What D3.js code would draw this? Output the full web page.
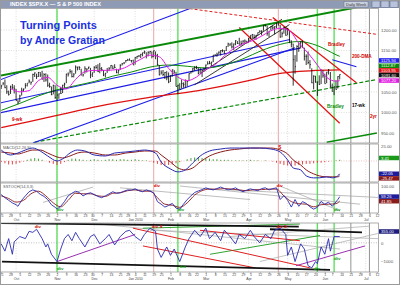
<!DOCTYPE html>
<html>
<head>
<meta charset="utf-8">
<script src="https://d3js.org/d3.v7.min.js"></script>
<style>
  body { margin: 0; background: #ffffff; }
  svg { display: block; font-family: "Liberation Sans", Arial, sans-serif; }
</style>
</head>
<body>
<div id="chart"></div>
<script>
// ---- data ----
var holidays = ["2009-11-26", "2009-12-25", "2010-01-01", "2010-01-18", "2010-02-15", "2010-04-02", "2010-05-31", "2010-07-05"];

// daily S&P 500 bars, Sep 21 2009 .. Jun 11 2010 (trading day index 0..182)
var highs = [1067,1073,1080,1066,1053,1065,1069,1066,
  1057,1030,1043,1060,1058,1071,1071,1080,1075,1094,1097,1094,1098,1098,1101,1095,1095,1092,1072,1063,1067,1066,
  1052,1046,1062,1067,1072,1094,1097,1105,1102,1095,1114,1111,1112,1106,1094,1112,1107,1111,1108,1097,
  1112,1115,1117,1120,1110,1103,1096,1108,1110,1115,1114,1117,1106,1103,1117,1120,1122,1127,1130,1131,1127,1128,
  1134,1137,1139,1142,1145,1150,1146,1148,1149,1148,1150,1148,1142,1115,1102,1103,1098,1100,1097,
  1090,1104,1103,1098,1067,1071,1080,1073,1080,1077,1095,1100,1108,1112,1113,1108,1107,1103,1108,
  1116,1124,1125,1123,1139,1141,1145,1148,1151,1153,1150,1160,1169,1167,1170,1167,1175,1173,1181,1174,1175,1177,1174,
  1181,1187,1190,1189,1188,1194,1199,1199,1211,1213,1210,1197,1209,1211,1209,1217,1220,1212,1196,1208,1207,
  1205,1197,1175,1167,1139,1163,1170,1172,1174,1157,1141,1148,1127,1107,1090,1089,1075,1090,1103,1102,
  1094,1098,1105,1098,1070,1063,1078,1088,1092];
var lows = [1057,1066,1059,1045,1041,1045,1057,1046,
  1029,1020,1025,1041,1050,1058,1063,1071,1067,1074,1086,1081,1086,1086,1080,1074,1075,1062,1060,1042,1044,1033,
  1029,1033,1045,1047,1060,1071,1087,1094,1085,1085,1094,1102,1103,1089,1087,1094,1097,1105,1083,1086,
  1096,1106,1098,1095,1100,1088,1085,1096,1101,1106,1105,1107,1095,1094,1103,1114,1117,1121,1125,1126,1121,1115,
  1116,1130,1134,1132,1136,1142,1131,1136,1142,1131,1134,1129,1114,1090,1092,1088,1081,1078,1071,
  1074,1087,1094,1063,1044,1056,1058,1060,1060,1063,1076,1094,1097,1101,1105,1092,1095,1086,1099,
  1105,1116,1117,1112,1122,1137,1135,1140,1138,1146,1141,1149,1159,1161,1155,1151,1163,1166,1165,1162,1166,1168,1168,
  1169,1178,1180,1178,1176,1187,1193,1187,1198,1208,1186,1183,1199,1201,1189,1204,1211,1181,1182,1191,1186,
  1187,1168,1158,1065,1094,1123,1147,1155,1156,1126,1115,1117,1106,1071,1056,1072,1040,1067,1069,1084,
  1070,1071,1092,1060,1051,1042,1055,1058,1080];
var closes = [1064,1071,1060,1050,1044,1062,1060,1057,
  1029,1025,1040,1054,1057,1065,1071,1076,1073,1092,1096,1087,1097,1091,1081,1092,1079,1066,1063,1043,1066,1036,
  1042,1045,1046,1066,1069,1093,1093,1099,1087,1093,1110,1110,1109,1094,1091,1106,1105,1110,1091,1096,
  1109,1109,1099,1106,1104,1091,1095,1102,1106,1114,1107,1109,1097,1102,1114,1118,1120,1126,1127,1126,1126,1115,
  1133,1136,1137,1141,1145,1147,1137,1146,1148,1136,1150,1138,1116,1091,1096,1092,1097,1084,1074,
  1089,1104,1098,1063,1066,1056,1070,1068,1078,1075,1094,1099,1106,1109,1108,1095,1105,1102,1105,
  1115,1118,1119,1122,1139,1139,1141,1146,1150,1150,1150,1160,1166,1166,1159,1166,1174,1167,1165,1167,1173,1173,1169,
  1178,1187,1189,1182,1187,1194,1197,1197,1211,1211,1192,1197,1208,1205,1208,1217,1212,1183,1191,1206,1187,
  1202,1173,1166,1128,1111,1160,1156,1171,1158,1136,1136,1121,1116,1072,1088,1074,1074,1068,1103,1089,
  1070,1098,1103,1064,1051,1062,1056,1087,1092];

// moving averages
var shortMaDays = [5,10,15,20,25,30,35,40,45,50,55,60,65,70,75,80,85,90,95,100,105,110,115,120,125,130,135,140,145,150,155,160,165,170,175,180,182];
var shortMa = [1058,1050,1053,1077,1085,1066,1057,1080,1099,1102,1102,1103,1106,1117,1129,1139,1135,1107,1086,1077,1086,1104,1116,1137,1155,1166,1174,1185,1198,1204,1198,1168,1144,1115,1085,1076,1077];
var ma50Days = [0,10,20,30,40,50,60,70,80,90,100,110,120,130,140,150,160,170,180,182];
var ma50 = [1005,1022,1040,1055,1065,1075,1088,1098,1110,1115,1112,1108,1115,1130,1150,1165,1172,1162,1140,1136];
var ma200Days = [0,30,52,79,106,133,149,166,182];
var ma200 = [963,993,1015,1036,1053,1077,1094,1101,1103];

// MACD
var macdDays = [0,5,9,13,17,21,25,30,33,37,41,45,50,56,61,67,72,77,83,86,91,95,99,103,107,112,118,123,128,134,139,145,150,154,157,161,164,168,171,175,178,181,182];
var macdLine = [18.7,10.2,13.6,18.7,22.1,17,8.5,0,3.4,13.6,18.7,17,10.2,8.5,13.6,15.3,17,18.7,13.6,-1.7,-13.6,-18.7,-15.3,-3.4,8.5,17,20.4,22.1,22.1,22.1,22.1,20.4,15.3,1.7,-11.9,-15.3,-25.5,-28.9,-28.9,-27.2,-28.9,-25.5,-22];
var signalDays = [0,5,9,13,17,21,25,30,33,37,41,45,50,56,61,67,72,77,83,86,91,95,99,103,107,112,118,123,128,134,139,145,150,154,157,161,164,168,171,175,178,181,182];
var signalLine = [15.3,13.6,11.9,15.3,18.7,18.7,13.6,6.8,5.1,8.5,13.6,15.3,13.6,10.2,10.2,13.6,15.3,17,17,10.2,-1.7,-11.9,-15.3,-11.9,-1.7,8.5,15.3,18.7,20.4,22.1,22.1,22.1,18.7,11.9,1.7,-6.8,-15.3,-22.1,-25.5,-27.2,-27.2,-27.2,-25.5];
// histogram, one value for every second trading day from day 0
var macdHist = [-2,-4,-6,-6,-5,-3,-1,2,4,5,4,2,0,-3,-5,-7,-5,-2,2,4,4,3,2,1,2,3,2,1,2,3,3,2,3,3,2,2,3,2,1,1,
  -1,-3,-5,-7,-8,-7,-6,-4,-2,0,3,5,6,6,5,4,4,3,3,2,2,2,1,1,1,1,1,2,1,1,0,1,0,-1,-3,-5,-7,-8,-9,-8,
  -7,-6,-5,-5,-4,-3,-3,-2,-1,0,1,2];

// stochastics
var stochDays = [0,2,4,6,8,9,11,13,15,17,19,21,23,25,27,29,30,32,34,36,38,40,42,44,46,48,50,52,54,56,58,60,62,64,66,68,70,72,74,76,78,80,82,84,86,88,90,92,94,96,98,100,102,104,106,108,110,112,114,116,118,120,122,124,126,128,130,132,134,136,138,140,142,144,146,148,150,152,154,156,158,160,162,164,166,168,170,172,174,176,178,179,181,182];
var stochFast = [67,55,45,35,28,22,45,62,78,85,80,68,60,48,28,18,11,22,40,62,72,80,75,62,70,74,67,60,55,62,70,78,72,74,80,85,84,89,82,78,85,80,74,40,30,19,25,33,15,11,30,48,62,75,81,86,93,88,85,90,96,90,85,88,93,84,78,84,89,85,82,90,93,85,90,93,48,63,45,19,48,22,40,33,20,11,18,41,30,38,22,30,48,59];
var slowDays = [0,4,8,12,16,20,24,28,32,36,40,44,48,52,56,60,64,68,72,76,80,84,88,92,96,100,104,108,112,116,120,124,128,132,136,140,144,148,152,156,160,164,168,172,176,180,182];
var stochSlow = [62,52,38,45,70,80,62,35,20,45,72,70,70,62,60,72,74,82,85,80,80,55,30,26,18,35,65,82,88,88,90,88,85,82,86,86,88,88,62,40,32,30,20,28,30,32,42];

// bottom oscillator
var oscDays = [0,2,4,6,7,10,13,15,17,19,22,24,25,27,30,32,34,36,38,40,42,45,48,50,53,56,58,61,64,67,69,72,75,77,80,83,84,86,89,91,93,96,99,101,104,107,110,112,115,118,120,123,126,128,131,134,136,139,142,145,147,150,153,154,156,158,161,163,165,167,169,170,172,174,176,177,179,182];
var oscVals = [-56,-444,222,-611,56,333,222,611,556,722,222,-222,-56,-611,-1000,-333,222,444,111,556,222,-222,333,444,-56,222,444,-111,333,611,667,333,111,444,778,611,-333,-778,-222,-667,-333,-1000,-222,222,667,333,778,222,556,111,667,333,-56,444,222,667,333,0,444,222,667,778,444,-667,-222,-1000,-56,-333,-1222,-1333,-1000,-1111,-222,-611,222,-444,333,333];

// trend lines as [day1, value1, day2, value2]
var greenTrend = [[-0.6, 1089, 191.3, 1255]];
var blueTrend = [[-0.6, 1079, 101.5, 1252], [-0.6, 1023, 155.3, 1177], [-0.6, 999, 160.6, 1156], [17.1, 926, 158, 1157], [178, 1128, 191, 1111]];
var redTrend = [[146, 1230, 191, 1072], [128, 1206, 182, 974]];
var redDashed = [[96, 1255, 202.6, 1189]];
var blackTrend = [[104, 1067, 155, 1213], [107, 1094, 151, 1226]];
var greenDashed = [[18, 928, 201, 1079]];
var greenLow = [[175, 928, 202, 950]];

var stochGray = [[22.5, 37, 49.4, 96], [63.9, 93, 133.8, 48], [96.1, 100, 192.9, 30], [123, 85, 202.6, 56], [149.9, 100, 182.2, 4]];

var oscBlack = [[0, 1050, 160, 860], [144.5, 722, 194, 556], [0.4, -1000, 176.8, -1444]];
var oscPurple = [[30, -1000, 72, 444], [158.5, -1222, 195.6, -167]];
var oscRed = [[70.9, 778, 166, -1333], [76.2, -167, 136.5, -1333], [106.9, 667, 160.6, 111]];
var oscGreen = [[76.2, 778, 160.6, 1000], [112.3, -611, 171.4, 389]];
var oscGray = [[53.1, 1000, 182.2, -333], [80, 667, 202.6, 222], [123, 333, 198.3, 889], [139, -1000, 202.6, 500]];

// cycle markers (trading day index)
var greenMarks = [30, 95, 170, 179];
var pinkMarks = [82, 149];
var grayMarks = [188, 198];

var priceGrid = [950, 1000, 1050, 1100, 1150, 1200];
var priceLabels = [950, 1000, 1050, 1150, 1200];
var priceBoxValues = [1126, 1113, 1103.9, 1091.6, 1077.2];
var priceBoxText = ["1125.94", "1112.87", "1103.95", "1091.60", "1077.20"];

var mainNotes = [[175.7, 1160, "Bradley"], [188.6, 1131, "200-DMA"], [175.2, 1011, "Bradley"], [188.6, 1013, "17-wk"], [198.3, 987, "2yr"], [5.8, 979, "9-wk"]];
var stochNotes = [[82, 96, "div"], [148, 96, "div"], [30, 3, "div"], [95, 3, "div"], [179, 3, "div"]];
var oscNotes = [[18, 780, "div"], [81, 780, "div S"], [148, 780, "div S"], [30, -1450, "div"], [96, -1350, "div"], [168, -1450, "div"], [179, -900, "div"]];

// ---- layout ----
var svgWidth = 400;
var svgHeight = 285;
var plotRight = 378;

var panels = {
  main: { top: 8.5, bottom: 143 },
  macd: { top: 144, bottom: 182 },
  stoch: { top: 183, bottom: 213 },
  osc: { top: 223, bottom: 272 }
};

var svg = d3.select("#chart")
  .append("svg")
  .attr("width", svgWidth)
  .attr("height", svgHeight);

svg.append("rect").attr("width", svgWidth).attr("height", svgHeight).attr("fill", "#ffffff");

// trading calendar
var holidaySet = new Set(holidays);
var dayKey = d3.timeFormat("%Y-%m-%d");
var tradingDays = d3.timeDay.range(new Date(2009, 8, 21), new Date(2010, 6, 17))
  .filter(function(d) { return d.getDay() > 0 && d.getDay() < 6 && !holidaySet.has(dayKey(d)); });

var x = d3.scaleLinear().domain([-0.65, 202.6]).range([0, plotRight]);

var yPrice = d3.scaleLinear().domain([926, 1252]).range([panels.main.bottom, panels.main.top]);
var yMacd = d3.scaleLinear().domain([-36, 29]).range([panels.macd.bottom, panels.macd.top]);
var yStoch = d3.scaleLinear().domain([0, 100]).range([212, 186]);
var yOsc = d3.scaleLinear().domain([-1555, 1055]).range([panels.osc.bottom, panels.osc.top]);

var weekStarts = [], monthStarts = [];
tradingDays.forEach(function(d, i) {
  if (i > 202) return;
  if (i === 0 || d.getDay() <= tradingDays[i - 1].getDay()) weekStarts.push(i);
  if (i > 0 && d.getMonth() !== tradingDays[i - 1].getMonth()) monthStarts.push(i);
});
var monthNames = ["Jan", "Feb", "Mar", "Apr", "May", "Jun", "Jul", "Aug", "Sep", "Oct", "Nov", "Dec"];

var defs = svg.append("defs");

function makePanel(name) {
  var p = panels[name];
  defs.append("clipPath").attr("id", "clip-" + name)
    .append("rect").attr("x", 1).attr("y", p.top).attr("width", plotRight - 1).attr("height", p.bottom - p.top);
  var g = svg.append("g").attr("clip-path", "url(#clip-" + name + ")");

  // month grid
  g.selectAll(".mgrid").data(monthStarts).enter().append("line")
    .attr("x1", d => x(d)).attr("x2", d => x(d))
    .attr("y1", p.top).attr("y2", p.bottom)
    .attr("stroke", "#c8c8c8").attr("stroke-width", 0.6).attr("stroke-dasharray", "1,1.5");

  // cycle markers
  g.selectAll(".gm").data(greenMarks).enter().append("line")
    .attr("x1", d => x(d)).attr("x2", d => x(d)).attr("y1", p.top).attr("y2", p.bottom)
    .attr("stroke", "#5ee05e").attr("stroke-width", 1.4);
  g.selectAll(".pm").data(pinkMarks).enter().append("line")
    .attr("x1", d => x(d)).attr("x2", d => x(d)).attr("y1", p.top).attr("y2", p.bottom)
    .attr("stroke", "#e8a6a6").attr("stroke-width", 1);
  g.selectAll(".km").data(grayMarks).enter().append("line")
    .attr("x1", d => x(d)).attr("x2", d => x(d)).attr("y1", p.top).attr("y2", p.bottom)
    .attr("stroke", "#777777").attr("stroke-width", 0.8);
  return g;
}

function drawSegments(g, segs, yScale, color, width, dash) {
  g.selectAll(null).data(segs).enter().append("line")
    .attr("x1", d => x(d[0])).attr("y1", d => yScale(d[1]))
    .attr("x2", d => x(d[2])).attr("y2", d => yScale(d[3]))
    .attr("stroke", color).attr("stroke-width", width)
    .attr("stroke-dasharray", dash || null);
}

function drawSeries(g, days, vals, yScale, color, width, curve) {
  var line = d3.line().x(d => x(d[0])).y(d => yScale(d[1])).curve(curve || d3.curveLinear);
  g.append("path").datum(d3.zip(days, vals))
    .attr("d", line).attr("fill", "none")
    .attr("stroke", color).attr("stroke-width", width);
}

function drawNotes(g, notes, yScale, colors, size) {
  g.selectAll(null).data(notes).enter().append("text")
    .attr("x", d => x(d[0])).attr("y", d => yScale(d[1]))
    .attr("font-size", size).attr("font-weight", "bold")
    .attr("fill", (d, i) => colors[i])
    .text(d => d[2]);
}

function rightAxis(ticks, yScale, fmt) {
  var ax = svg.append("g").attr("transform", "translate(" + (plotRight + 3) + ",0)")
    .call(d3.axisRight(yScale).tickValues(ticks).tickFormat(fmt).tickSize(0).tickPadding(0));
  ax.select(".domain").remove();
  ax.selectAll("text").attr("font-size", 4.3).attr("fill", "#555").attr("font-family", "Liberation Sans, Arial");
}

function valueBoxes(values, texts, colors, yScale) {
  var ys = values.map(v => yScale(v));
  for (var i = 1; i < ys.length; i++) if (ys[i] - ys[i - 1] < 4.6) ys[i] = ys[i - 1] + 4.6;
  values.forEach(function(v, i) {
    svg.append("rect").attr("x", plotRight + 1).attr("y", ys[i] - 2.3).attr("width", 20).attr("height", 4.5)
      .attr("fill", colors[i]);
    svg.append("text").attr("x", plotRight + 3).attr("y", ys[i] + 1.5).attr("font-size", 4.2)
      .attr("fill", "#ffffff").text(texts[i]);
  });
}

// ---- title bar ----
svg.append("rect").attr("x", 0).attr("y", 0).attr("width", svgWidth).attr("height", 8).attr("fill", "#8f9bb5");
svg.append("text").attr("x", 10).attr("y", 6.3).attr("font-size", 5.6).attr("font-weight", "bold")
  .attr("fill", "#ffffff").text("INDEX $SPX.X \u2014 S & P 500 INDEX");
svg.append("rect").attr("x", 344).attr("y", 1.5).attr("width", 24).attr("height", 5.5).attr("fill", "#c9d0de").attr("stroke", "#6a7590").attr("stroke-width", 0.5);
svg.append("text").attr("x", 346).attr("y", 5.9).attr("font-size", 4).attr("fill", "#333").text("Daily  Week");
[372, 381, 390].forEach(function(bx) {
  svg.append("rect").attr("x", bx).attr("y", 1).attr("width", 8).attr("height", 6.5)
    .attr("fill", "#b9c4dc").attr("stroke", "#5a6584").attr("stroke-width", 0.5);
});

// ---- main price panel ----
var gMain = makePanel("main");
gMain.selectAll(".hgrid").data(priceGrid).enter().append("line")
  .attr("x1", 1).attr("x2", plotRight).attr("y1", d => yPrice(d)).attr("y2", d => yPrice(d))
  .attr("stroke", "#c8c8c8").attr("stroke-width", 0.6).attr("stroke-dasharray", "1,1.5");

drawSegments(gMain, greenDashed, yPrice, "#0a8a0a", 1.2, "4,2");
drawSegments(gMain, greenLow, yPrice, "#0a8a0a", 1.5);
drawSegments(gMain, blueTrend, yPrice, "#1c1ce6", 1.1);
drawSegments(gMain, blackTrend, yPrice, "#222222", 0.9);
drawSegments(gMain, redDashed, yPrice, "#e02020", 1, "3,2");
drawSegments(gMain, redTrend, yPrice, "#e01010", 1.2);
drawSegments(gMain, greenTrend, yPrice, "#0a8a0a", 2);

drawSeries(gMain, ma200Days, ma200, yPrice, "#e01010", 1.3, d3.curveMonotoneX);
drawSeries(gMain, ma50Days, ma50, yPrice, "#0a8a0a", 1, d3.curveMonotoneX);

// price bars
var bars = d3.range(closes.length);
gMain.selectAll(".bar").data(bars).enter().append("line")
  .attr("x1", d => x(d)).attr("x2", d => x(d))
  .attr("y1", d => yPrice(highs[d])).attr("y2", d => yPrice(lows[d]))
  .attr("stroke", "#000000").attr("stroke-width", 0.8);
gMain.selectAll(".tick-c").data(bars).enter().append("line")
  .attr("x1", d => x(d)).attr("x2", d => x(d) + 1)
  .attr("y1", d => yPrice(closes[d])).attr("y2", d => yPrice(closes[d]))
  .attr("stroke", "#000000").attr("stroke-width", 0.7);

drawSeries(gMain, shortMaDays, shortMa, yPrice, "#e01ee0", 1, d3.curveMonotoneX);

drawNotes(gMain, mainNotes, yPrice, ["#d00000", "#d00000", "#0a8a0a", "#000000", "#d00000", "#d00000"], 4.6);

svg.append("text").attr("x", 20).attr("y", 28.5).attr("font-size", 11).attr("font-weight", "bold")
  .attr("fill", "#2030e0").text("Turning Points");
svg.append("text").attr("x", 20).attr("y", 43.5).attr("font-size", 10.5).attr("font-weight", "bold")
  .attr("fill", "#2030e0").text("by Andre Gratian");

rightAxis(priceLabels, yPrice, d3.format(".2f"));
valueBoxes(priceBoxValues, priceBoxText, ["#2020f0", "#0a8a0a", "#e01010", "#111111", "#e020e0"], yPrice);

// ---- MACD panel ----
var gMacd = makePanel("macd");
gMacd.append("line").attr("x1", 1).attr("x2", plotRight).attr("y1", yMacd(0)).attr("y2", yMacd(0))
  .attr("stroke", "#e8a0a0").attr("stroke-width", 0.6).attr("stroke-dasharray", "1,1.5");
gMacd.selectAll(".hist").data(macdHist).enter().append("line")
  .attr("x1", (d, i) => x(i * 2)).attr("x2", (d, i) => x(i * 2))
  .attr("y1", yMacd(0)).attr("y2", d => yMacd(d))
  .attr("stroke", d => d >= 0 ? "#2a9a2a" : "#e03030").attr("stroke-width", 0.9);
drawSeries(gMacd, signalDays, signalLine, yMacd, "#8b1a1a", 1, d3.curveMonotoneX);
drawSeries(gMacd, macdDays, macdLine, yMacd, "#2a2ab0", 1, d3.curveMonotoneX);
gMacd.append("text").attr("x", 3).attr("y", panels.macd.top + 4.5).attr("font-size", 4).attr("fill", "#555").text("MACD(12,26,9)");
gMacd.append("text").attr("x", x(149)).attr("y", panels.macd.top + 5).attr("font-size", 4.6).attr("font-weight", "bold").attr("fill", "#d00000").text("S");
rightAxis([25], yMacd, d3.format(".2f"));
valueBoxes([5, -22, -25.5], ["3.41", "-22.05", "-25.47"], ["#1a9a1a", "#1c1c9c", "#8b1a1a"], yMacd);

// ---- stochastics panel ----
var gStoch = makePanel("stoch");
drawSegments(gStoch, stochGray, yStoch, "#a0a0a0", 0.7);
drawSeries(gStoch, slowDays, stochSlow, yStoch, "#8b1a1a", 0.9, d3.curveMonotoneX);
drawSeries(gStoch, stochDays, stochFast, yStoch, "#2a2ab0", 0.9);
gStoch.append("text").attr("x", 3).attr("y", panels.stoch.top + 4.5).attr("font-size", 4).attr("fill", "#555").text("SSTOCH(14,3,3)");
drawNotes(gStoch, stochNotes, yStoch, ["#d00000", "#d00000", "#0a9a0a", "#0a9a0a", "#0a9a0a"], 4.4);
rightAxis([100], yStoch, d3.format(".2f"));
valueBoxes([59, 42], ["59.26", "41.85"], ["#1c1c9c", "#8b1a1a"], yStoch);

// ---- bottom oscillator panel ----
var gOsc = makePanel("osc");
gOsc.append("line").attr("x1", 1).attr("x2", plotRight).attr("y1", yOsc(0)).attr("y2", yOsc(0))
  .attr("stroke", "#999").attr("stroke-width", 0.6).attr("stroke-dasharray", "1,1.5");
drawSegments(gOsc, oscGray, yOsc, "#a8a8a8", 0.7);
drawSegments(gOsc, oscGreen, yOsc, "#1a9a1a", 0.9);
drawSegments(gOsc, oscRed, yOsc, "#e02020", 1);
drawSegments(gOsc, oscPurple, yOsc, "#9a30b0", 1);
drawSegments(gOsc, oscBlack, yOsc, "#111111", 1.8);
drawSeries(gOsc, oscDays, oscVals, yOsc, "#2a2ab0", 0.9);
drawNotes(gOsc, oscNotes, yOsc, ["#d00000", "#d00000", "#d00000", "#0a9a0a", "#0a9a0a", "#0a9a0a", "#0a9a0a"], 4.4);
rightAxis([0, -1000], yOsc, d3.format("d"));
valueBoxes([600], ["355.00"], ["#1c1c7c"], yOsc);

// ---- date axes: week numbers on one row, month names on the row below ----
function dateAxis(yTop) {
  var a1 = svg.append("g").attr("transform", "translate(0," + yTop + ")")
    .call(d3.axisBottom(x).tickValues(weekStarts).tickSize(1).tickPadding(0)
      .tickFormat(i => tradingDays[i].getDate()));
  a1.select(".domain").remove();
  a1.selectAll("line").attr("stroke", "#888");
  a1.selectAll("text").attr("font-size", 3.4).attr("fill", "#444").attr("dy", "0.72em");
  var a2 = svg.append("g").attr("transform", "translate(0," + (yTop + 5) + ")")
    .call(d3.axisBottom(x).tickValues(monthStarts).tickSize(0).tickPadding(0)
      .tickFormat(i => monthNames[tradingDays[i].getMonth()] + (tradingDays[i].getMonth() === 0 ? " 2010" : "")));
  a2.select(".domain").remove();
  a2.selectAll("text").attr("font-size", 3.5).attr("fill", "#444").attr("dy", "0.72em");
}
dateAxis(panels.stoch.bottom + 0.3);
dateAxis(panels.osc.bottom + 0.5);

// ---- frames ----
[panels.main, panels.macd, panels.stoch, panels.osc].forEach(function(p) {
  svg.append("rect").attr("x", 0.5).attr("y", p.top).attr("width", plotRight).attr("height", p.bottom - p.top)
    .attr("fill", "none").attr("stroke", "#8a8a8a").attr("stroke-width", 0.7);
});
svg.append("rect").attr("x", 0.5).attr("y", 0.5).attr("width", svgWidth - 1).attr("height", svgHeight - 1)
  .attr("fill", "none").attr("stroke", "#9a9a9a");
</script>
</body>
</html>
